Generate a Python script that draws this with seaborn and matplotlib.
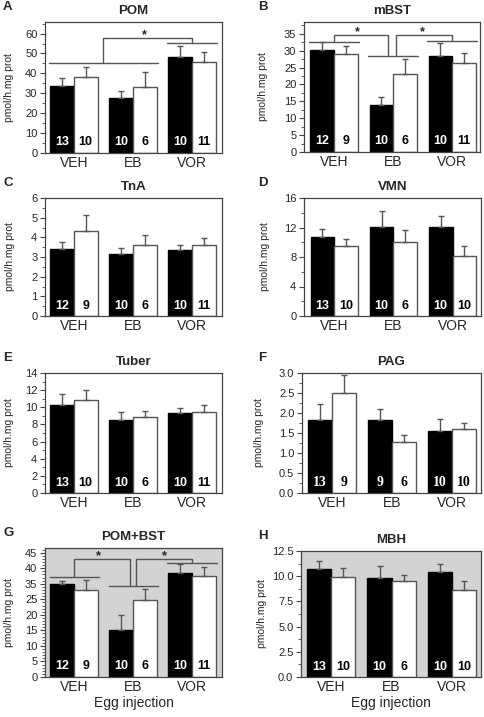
import numpy as np
import pandas as pd
import matplotlib
matplotlib.use("Agg")
import matplotlib.pyplot as plt
import seaborn as sns
from matplotlib.ticker import MultipleLocator, AutoMinorLocator, FixedLocator, FormatStrFormatter
import matplotlib.transforms as mtransforms

# ---------------- data ----------------
treatments = ["VEH", "EB", "VOR"]
series = ["dark", "light"]

pom_dark = [33.8, 27.5, 48.0]
pom_dark_sem = [4.0, 3.7, 5.7]
pom_light = [38.3, 33.3, 45.8]
pom_light_sem = [5.0, 7.5, 5.0]
pom_n_dark = [13, 10, 10]
pom_n_light = [10, 6, 11]

mbst_dark = [30.1, 14.0, 28.3]
mbst_dark_sem = [2.4, 2.3, 3.9]
mbst_light = [29.1, 23.0, 26.3]
mbst_light_sem = [2.2, 4.4, 3.1]
mbst_n_dark = [12, 10, 10]
mbst_n_light = [9, 6, 11]

tna_dark = [3.42, 3.16, 3.37]
tna_dark_sem = [0.34, 0.29, 0.25]
tna_light = [4.30, 3.62, 3.59]
tna_light_sem = [0.85, 0.51, 0.37]
tna_n_dark = [12, 10, 10]
tna_n_light = [9, 6, 11]

vmn_dark = [10.65, 12.06, 12.06]
vmn_dark_sem = [1.15, 2.24, 1.44]
vmn_light = [9.43, 10.1, 8.16]
vmn_light_sem = [1.04, 1.5, 1.27]
vmn_n_dark = [13, 10, 10]
vmn_n_light = [10, 6, 10]

tuber_dark = [10.3, 8.5, 9.3]
tuber_dark_sem = [1.2, 1.0, 0.67]
tuber_light = [10.8, 8.9, 9.5]
tuber_light_sem = [1.25, 0.7, 0.8]
tuber_n_dark = [13, 10, 10]
tuber_n_light = [10, 6, 11]

pag_dark = [1.82, 1.83, 1.56]
pag_dark_sem = [0.41, 0.27, 0.29]
pag_light = [2.50, 1.27, 1.61]
pag_light_sem = [0.44, 0.17, 0.14]
pag_n_dark = [13, 9, 10]
pag_n_light = [9, 6, 10]

# POM+BST is drawn on its (mislabelled) printed axis: positions 0..40, labels below
pombst_dark = [29.8, 15.0, 33.3]
pombst_dark_sem = [1.0, 5.1, 2.9]
pombst_light = [28.1, 24.9, 32.6]
pombst_light_sem = [3.0, 3.4, 2.8]
pombst_n_dark = [12, 10, 10]
pombst_n_light = [9, 6, 11]
pombst_tick_pos = [0, 5, 10, 15, 20, 25, 30, 35, 40]
pombst_tick_labels = ["0", "5", "10", "15", "20", "25", "35", "40", "45"]

mbh_dark = [10.75, 9.85, 10.4]
mbh_dark_sem = [0.75, 1.15, 0.85]
mbh_light = [9.92, 9.5, 8.6]
mbh_light_sem = [0.93, 0.65, 0.95]
mbh_n_dark = [13, 10, 10]
mbh_n_light = [10, 6, 10]

panel_titles = ["POM", "mBST", "TnA", "VMN", "Tuber", "PAG", "POM+BST", "MBH"]
panel_letters = ["A", "B", "C", "D", "E", "F", "G", "H"]
ylabel_text = "pmol/h.mg prot"
xlabel_text = "Egg injection"

# ---------------- style ----------------
sns.set_theme(style="ticks")
plt.rcParams["font.family"] = ["Liberation Sans", "DejaVu Sans"]
plt.rcParams["axes.linewidth"] = 0.9

W, H = 484, 717
fig = plt.figure(figsize=(W / 100, H / 100), dpi=100)

SPINE = "#444444"
ERR = "#555555"
GRAYBG = "#d3d3d3"

def ax_at(left, top, right, bottom):
    return fig.add_axes([left / W, 1 - bottom / H, (right - left) / W, (bottom - top) / H])

panels = [
    dict(vals=(pom_dark, pom_light), sem=(pom_dark_sem, pom_light_sem), n=(pom_n_dark, pom_n_light),
         box=(45, 22, 222, 153), ylim=65.8, major=10, minor=2, fmt=None, xlim=(-0.49, 2.51), ylx=-0.175, bg="white"),
    dict(vals=(mbst_dark, mbst_light), sem=(mbst_dark_sem, mbst_light_sem), n=(mbst_n_dark, mbst_n_light),
         box=(304, 22, 480, 152), ylim=38.5, major=5, minor=2, fmt=None, xlim=(-0.51, 2.47), ylx=-0.205, bg="white"),
    dict(vals=(tna_dark, tna_light), sem=(tna_dark_sem, tna_light_sem), n=(tna_n_dark, tna_n_light),
         box=(45, 198, 222, 316), ylim=6, major=1, minor=2, fmt=None, xlim=(-0.49, 2.51), ylx=-0.17, bg="white"),
    dict(vals=(vmn_dark, vmn_light), sem=(vmn_dark_sem, vmn_light_sem), n=(vmn_n_dark, vmn_n_light),
         box=(304, 198, 481, 316), ylim=16, major=4, minor=2, fmt=None, xlim=(-0.51, 2.48), ylx=-0.19, bg="white"),
    dict(vals=(tuber_dark, tuber_light), sem=(tuber_dark_sem, tuber_light_sem), n=(tuber_n_dark, tuber_n_light),
         box=(45, 373, 222, 493), ylim=14, major=2, minor=2, fmt=None, xlim=(-0.49, 2.51), ylx=-0.175, bg="white"),
    dict(vals=(pag_dark, pag_light), sem=(pag_dark_sem, pag_light_sem), n=(pag_n_dark, pag_n_light),
         box=(302, 373, 481, 493), ylim=3.0, major=0.5, minor=2, fmt="%.1f", xlim=(-0.5, 2.48), ylx=-0.21, bg="white",
         serif_counts=True),
    dict(vals=(pombst_dark, pombst_light), sem=(pombst_dark_sem, pombst_light_sem), n=(pombst_n_dark, pombst_n_light),
         box=(45, 548, 222, 677), ylim=41.5, major=None, minor=5, fmt=None, xlim=(-0.49, 2.51), ylx=-0.175, bg=GRAYBG),
    dict(vals=(mbh_dark, mbh_light), sem=(mbh_dark_sem, mbh_light_sem), n=(mbh_n_dark, mbh_n_light),
         box=(301, 551, 481, 677), ylim=12.5, major=2.5, minor=2, fmt="%.1f", xlim=(-0.5, 2.48), ylx=-0.19, bg=GRAYBG),
]

# significance brackets: horizontal lines, connectors, stars
brackets = {
    0: dict(lines=[(-0.42, 1.42, 45.2), (1.58, 2.42, 55.2)],
            conns=[([0.5, 0.5, 2.0, 2.0], [45.2, 57.7, 57.7, 55.2])],
            stars=[(1.2, 57.7)]),
    1: dict(lines=[(-0.42, 0.42, 32.5), (0.58, 1.42, 28.3), (1.58, 2.42, 32.8)],
            conns=[([0.0, 0.0, 0.92, 0.92], [32.5, 34.7, 34.7, 28.3]),
                   ([1.05, 1.05, 2.0, 2.0], [28.3, 34.7, 34.7, 32.8])],
            stars=[(0.39, 34.7), (1.49, 34.7)]),
    6: dict(lines=[(-0.4, 0.42, 32.2), (0.6, 1.42, 29.3), (1.58, 2.42, 36.7)],
            conns=[([0.0, 0.0, 0.95, 0.95], [32.2, 37.9, 37.9, 29.3]),
                   ([1.06, 1.06, 2.0, 2.0], [29.3, 37.9, 37.9, 36.7])],
            stars=[(0.41, 37.9), (1.54, 37.9)]),
}

for i, p in enumerate(panels):
    ax = ax_at(*p["box"])
    ax.set_facecolor(p["bg"])
    df = pd.DataFrame({
        "treatment": treatments * 2,
        "series": [series[0]] * 3 + [series[1]] * 3,
        "value": list(p["vals"][0]) + list(p["vals"][1]),
    })
    sns.barplot(data=df, x="treatment", y="value", hue="series", order=treatments, hue_order=series,
                palette={"dark": "black", "light": "white"}, width=0.8, dodge=True,
                errorbar=None, legend=False, ax=ax, saturation=1, zorder=2)
    edgecols = ["black", "#555555"]
    bar_containers = list(ax.containers)[:2]
    trans = mtransforms.blended_transform_factory(ax.transData, ax.transAxes)
    for k, cont in enumerate(bar_containers):
        xs, hs = [], []
        for b in cont.patches:
            b.set_edgecolor(edgecols[k])
            b.set_linewidth(1.0)
            xs.append(b.get_x() + b.get_width() / 2)
            hs.append(b.get_height())
        sem = np.array(p["sem"][k])
        ax.errorbar(xs, hs, yerr=[np.zeros_like(sem), sem], fmt="none", ecolor=ERR,
                    elinewidth=1.0, capsize=2.2, capthick=1.0, zorder=3)
        tcol = "white" if k == 0 else "black"
        if p.get("serif_counts"):
            fam, fs = ["Liberation Serif", "DejaVu Serif"], 10
        else:
            fam, fs = ["Liberation Sans", "DejaVu Sans"], 9
        for x, nval in zip(xs, p["n"][k]):
            ax.text(x, 0.035, str(nval), transform=trans, ha="center", va="bottom",
                    color=tcol, fontsize=fs, fontweight="bold", family=fam, zorder=4)

    ax.set_xlim(*p["xlim"])
    ax.set_ylim(0, p["ylim"])
    if p["major"] is not None:
        ax.yaxis.set_major_locator(MultipleLocator(p["major"]))
    else:
        ax.yaxis.set_major_locator(FixedLocator(pombst_tick_pos))
        ax.set_yticklabels(pombst_tick_labels)
    ax.yaxis.set_minor_locator(AutoMinorLocator(p["minor"]))
    if p["fmt"]:
        ax.yaxis.set_major_formatter(FormatStrFormatter(p["fmt"]))
    for s in ax.spines.values():
        s.set_visible(True)
        s.set_color(SPINE)
        s.set_linewidth(0.9)
        s.set_zorder(5)
    ax.tick_params(axis="y", which="major", length=3.5, width=0.8, color=SPINE, labelsize=8, pad=2)
    ax.tick_params(axis="y", which="minor", length=2, width=0.6, color=SPINE)
    ax.tick_params(axis="x", length=0, labelsize=10, pad=2.5)
    ax.set_ylabel(ylabel_text, fontsize=7.5)
    ax.yaxis.set_label_coords(p["ylx"], 0.5)
    ax.set_title(panel_titles[i], fontsize=9.5, fontweight="bold", pad=6)
    if i >= 6:
        ax.set_xlabel(xlabel_text, fontsize=10, labelpad=1)
    else:
        ax.set_xlabel("")

    # panel letter
    box = p["box"]
    lx = 3 if box[0] < 200 else 258
    ax.text((lx - box[0]) / (box[2] - box[0]), 1 + 9.0 / (box[3] - box[1]), panel_letters[i],
            transform=ax.transAxes, ha="left", va="bottom", fontsize=9.5, fontweight="bold")

    if i in brackets:
        br = brackets[i]
        for x0, x1, y in br["lines"]:
            ax.plot([x0, x1], [y, y], color=ERR, lw=1.0, zorder=3, clip_on=False)
        for xs_, ys_ in br["conns"]:
            ax.plot(xs_, ys_, color=ERR, lw=1.0, zorder=3, clip_on=False)
        for sx, sy in br["stars"]:
            ax.text(sx, sy, "*", ha="center", va="baseline", fontsize=9, fontweight="bold", zorder=4)

fig.savefig("out.png", dpi=100)
